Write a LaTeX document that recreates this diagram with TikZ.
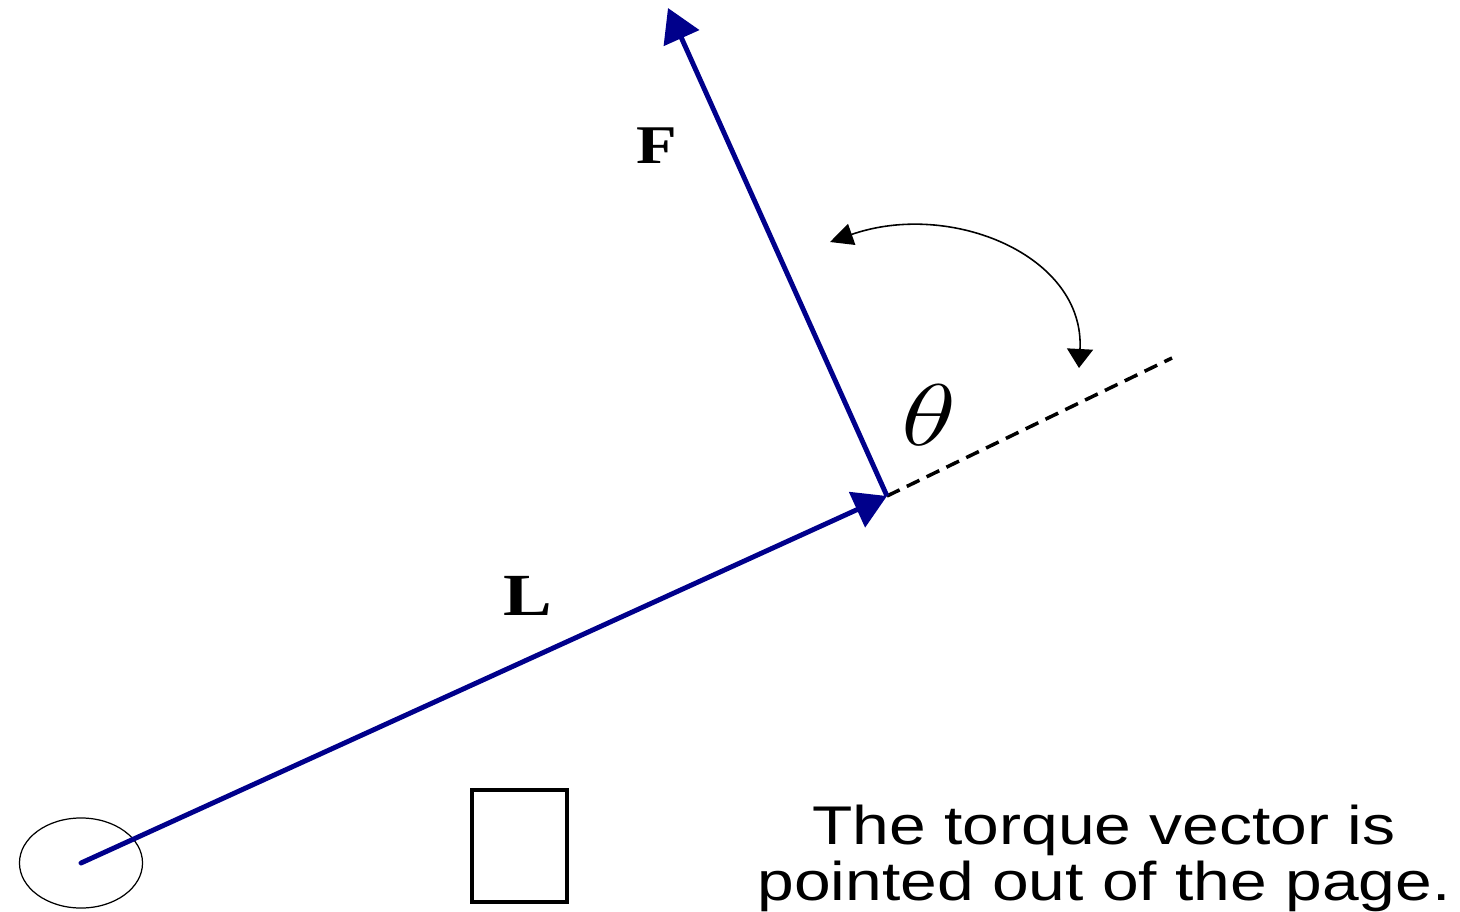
\documentclass[tikz,border=0pt]{standalone}
\usepackage{fontspec}
\setmainfont{Liberation Sans}
\newfontfamily\timesfont{Liberation Serif}
\usetikzlibrary{arrows.meta}
\definecolor{vecblue}{RGB}{0,0,139}

\begin{document}
\begin{tikzpicture}[x=0.01cm, y=-0.01cm,
    vec/.style={draw=vecblue, line width=1.4pt, -{Triangle[length=3.3mm, width=3.8mm]}},
    ang/.style={line width=0.45pt, {Triangle[length=2.3mm, width=2.2mm]}-{Triangle[length=1.9mm, width=2.6mm]}},
    lbl/.style={font=\timesfont\bfseries\fontsize{#1}{#1}\selectfont, inner sep=0pt, xscale=1.22, transform shape},
    caption/.style={font=\fontsize{15.5}{15.5}\selectfont, anchor=base, inner sep=0pt, xscale=1.21, transform shape}]
  \useasboundingbox (0,0) rectangle (1460,912);
  \coordinate (pivot) at (81,863);
  \coordinate (joint) at (887,496);
  \coordinate (ftip) at (668,8);
  \coordinate (dashend) at (1172,358);
  \coordinate (arcA) at (830,242);
  \coordinate (arcB) at (1079,368);
  % hub round the pivot
  \draw[line width=0.35pt] (pivot) ellipse [x radius=0.615cm, y radius=0.45cm];
  % lever arm, force and its line of action
  \draw[vec, line cap=round] (pivot) -- (joint);
  \draw[line width=1pt, dash pattern=on 1.4mm off 0.8mm] (joint) -- (dashend);
  \draw[vec] (joint) -- (ftip);
  % angle between them
  \draw[ang] (arcA) .. controls (950,200) and (1085,255) .. (arcB);
  \node[lbl=15.5] (labF) at (657,146) {F};
  \node[lbl=17] (labL) at (528,596) {L};
  \node[font=\fontsize{23}{23}\selectfont, inner sep=0pt, xscale=1.3, transform shape] (labTheta) at (929,415) {$\theta$};
  % box for the out-of-page symbol
  \node[draw, line width=1.1pt, minimum width=0.95cm, minimum height=1.12cm, inner sep=0pt] (dotbox) at (519.5,846) {};
  \node[caption] (txtA) at (1104,844) {The torque vector is};
  \node[caption] (txtB) at (1104,900) {pointed out of the page.};
\end{tikzpicture}
\end{document}
